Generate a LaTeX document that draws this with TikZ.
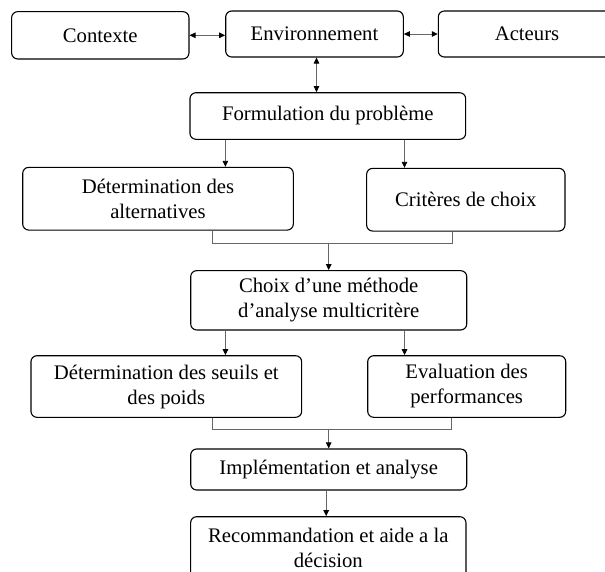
\documentclass[tikz,border=0pt]{standalone}
\usepackage{fontspec}
\setmainfont{Liberation Serif}
\usetikzlibrary{arrows.meta,calc}
\begin{document}
\begin{tikzpicture}[x=1pt,y=-1pt,
  box/.style={draw=black,line width=1.1pt,rounded corners=6pt,align=center,inner sep=0pt,
    font=\fontsize{20.7}{25}\selectfont},
  conn/.style={draw=black!60,line width=0.9pt},
  tip/.style={-{Triangle[length=6pt,width=5.5pt,color=black]}},
  dtip/.style={{Triangle[length=6pt,width=5.5pt,color=black]}-{Triangle[length=6pt,width=5.5pt,color=black]}}]
\useasboundingbox (0,0) rectangle (605,571);
\node[box,minimum width=177.3pt,minimum height=47.3pt] (ctx) at (100.3,35.3) {Contexte};
\node[box,minimum width=177.6pt,minimum height=46pt] (env) at (314.5,34) {Environnement};
\node[box,minimum width=177.4pt,minimum height=46pt] (act) at (527,34) {Acteurs};
\node[box,minimum width=275.7pt,minimum height=46.6pt] (form) at (327.8,116) {Formulation du problème};
\node[box,minimum width=270.6pt,minimum height=62.7pt] (alt) at (158,198.7) {Détermination des\\alternatives};
\node[box,minimum width=198.3pt,minimum height=62.7pt] (crit) at (465.8,199.7) {Critères de choix};
\node[box,minimum width=276pt,minimum height=59.3pt] (choix) at (328.7,300.3) {Choix d’une méthode\\d’analyse multicritère};
\node[box,minimum width=270.7pt,minimum height=61.6pt] (seuil) at (166.3,386.5) {Détermination des seuils et\\des poids};
\node[box,minimum width=198pt,minimum height=61.6pt] (eval) at (466.7,386.5) {Evaluation des\\performances};
\node[box,minimum width=276pt,minimum height=41pt] (impl) at (328.7,469.5) {Implémentation et analyse};
\node[box,minimum width=275.3pt,minimum height=61.6pt] (rec) at (328.3,547.5) {Recommandation et aide a la\\décision};
% top connectors
\draw[conn,dtip] (ctx.east) -- (ctx.east -| env.west);
\draw[conn,dtip] (env.east) -- (env.east -| act.west);
\draw[conn,dtip] ([xshift=2pt]env.south) -- ([xshift=2pt]env.south |- form.north);
% formulation to alternatives / criteria
\draw[conn,tip] ([xshift=36pt]form.south west) -- ([xshift=36pt]form.south west |- alt.north);
\draw[conn,tip] ([xshift=-61.7pt]form.south east) -- ([xshift=-61.7pt]form.south east |- crit.north);
% merge to choix
\coordinate (m1) at ($(alt.south west)+(190.6,12.5)$);
\draw[conn] ([xshift=190.6pt]alt.south west) -- (m1) -- (m1 -| {$(crit.south west)+(86,0)$}) -- ([xshift=86pt]crit.south west);
\draw[conn,tip] (m1 -| choix.north) -- (choix.north);
% choix to seuil / eval
\draw[conn,tip] ([xshift=35.3pt]choix.south west) -- ([xshift=35.3pt]choix.south west |- seuil.north);
\draw[conn,tip] ([xshift=-62.7pt]choix.south east) -- ([xshift=-62.7pt]choix.south east |- eval.north);
% merge to impl
\coordinate (m2) at ($(seuil.south west)+(181.7,11.2)$);
\draw[conn] ([xshift=181.7pt]seuil.south west) -- (m2) -- (m2 -| {$(eval.south west)+(84.6,0)$}) -- ([xshift=84.6pt]eval.south west);
\draw[conn,tip] (m2 -| impl.north) -- (impl.north);
% impl to rec
\draw[conn,tip] ([xshift=-2.5pt]impl.south) -- ([xshift=-2.5pt]impl.south |- rec.north);
\end{tikzpicture}
\end{document}
